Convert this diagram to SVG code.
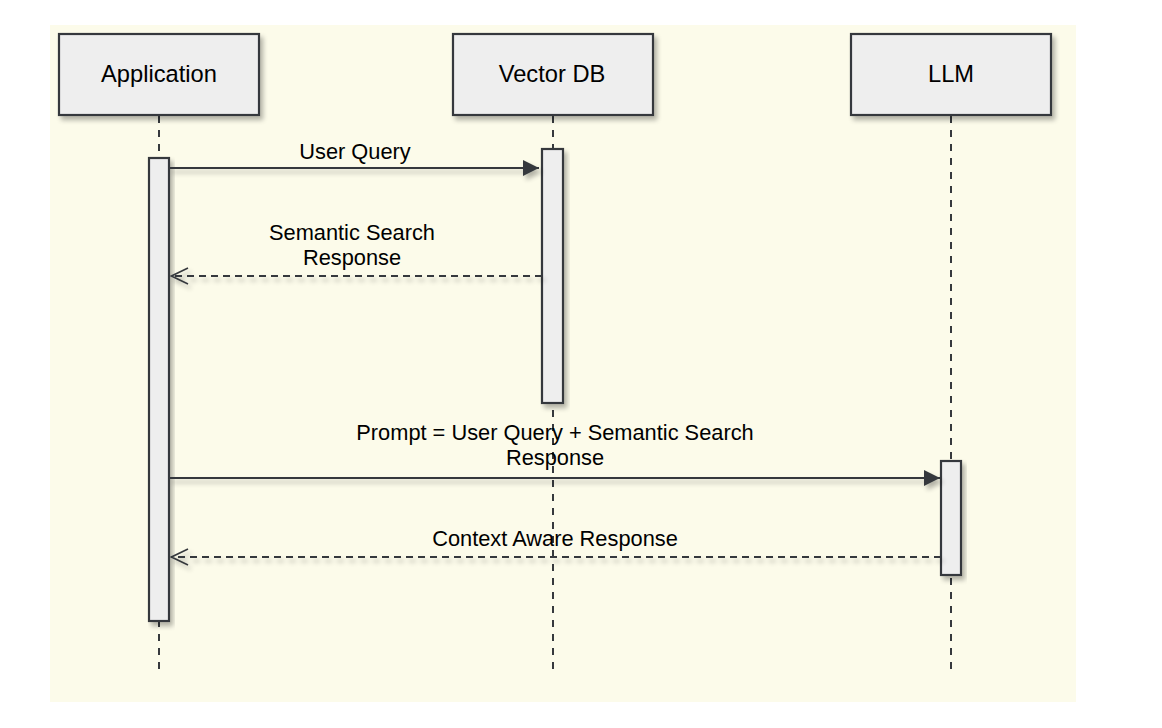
<svg xmlns="http://www.w3.org/2000/svg" width="1162" height="728" viewBox="0 0 1162 728">
<style>
.actor{fill:#eeeeee;stroke:#36393d;stroke-width:2.2}
.act{fill:#eeeeee;stroke:#36393d;stroke-width:2.2}
.life{stroke:#36393d;stroke-width:2;stroke-dasharray:7 7;fill:none}
.msg{stroke:#36393d;stroke-width:2;fill:none}
.ret{stroke:#36393d;stroke-width:2;fill:none;stroke-dasharray:7 5}
.lbl{font-family:"Liberation Sans",Arial,sans-serif;font-size:23.7px;fill:#000;text-anchor:middle}
.mlbl{font-family:"Liberation Sans",Arial,sans-serif;font-size:21.8px;fill:#000;text-anchor:middle}
</style>
<defs>
<filter id="sh" x="-20%" y="-20%" width="150%" height="150%">
<feGaussianBlur in="SourceAlpha" stdDeviation="2.5"/>
<feOffset dx="3" dy="4" result="b"/>
<feComponentTransfer><feFuncA type="linear" slope="0.3"/></feComponentTransfer>
<feMerge><feMergeNode/><feMergeNode in="SourceGraphic"/></feMerge>
</filter>
<marker id="solid" markerWidth="17" markerHeight="16" refX="16" refY="8" orient="auto" markerUnits="userSpaceOnUse">
<path d="M0,0 L16,8 L0,16 Z" fill="#36393d"/>
</marker>
<marker id="open" markerWidth="19" markerHeight="19" refX="18" refY="9.5" orient="auto" markerUnits="userSpaceOnUse">
<path d="M1,1.5 L17.5,9.5 L1,17.5" fill="none" stroke="#36393d" stroke-width="1.6"/>
</marker>
</defs>
<rect x="50" y="25" width="1026" height="677" fill="#fcfbea"/>

<g id="lifelines">
<line class="life" x1="159" y1="116" x2="159" y2="673"/>
<line class="life" x1="553" y1="116" x2="553" y2="673"/>
<line class="life" x1="951" y1="116" x2="951" y2="673"/>
</g>

<g id="application">
<rect class="actor" x="59" y="34" width="200" height="81" filter="url(#sh)"/>
<text class="lbl" x="159" y="82">Application</text>
<rect class="act" x="149" y="158" width="20" height="463" filter="url(#sh)"/>
</g>
<g id="vectordb">
<rect class="actor" x="453" y="34" width="200" height="81" filter="url(#sh)"/>
<text class="lbl" x="552" y="82">Vector DB</text>
<rect class="act" x="542" y="149" width="21" height="254" filter="url(#sh)"/>
</g>
<g id="llm">
<rect class="actor" x="851" y="34" width="200" height="81" filter="url(#sh)"/>
<text class="lbl" x="951" y="82">LLM</text>
<rect class="act" x="941" y="461" width="20" height="114" filter="url(#sh)"/>
</g>

<g id="connectors">
<g filter="url(#sh)">
<line class="msg" x1="169" y1="168" x2="539" y2="168" marker-end="url(#solid)"/>
<line class="ret" x1="542" y1="276" x2="171" y2="276" marker-end="url(#open)"/>
<line class="msg" x1="169" y1="478" x2="940" y2="478" marker-end="url(#solid)"/>
<line class="ret" x1="941" y1="557" x2="171" y2="557" marker-end="url(#open)"/>
</g>
<text class="mlbl" x="355" y="159">User Query</text>
<text class="mlbl" x="352" y="240">Semantic Search</text>
<text class="mlbl" x="352" y="265">Response</text>
<text class="mlbl" x="555" y="440">Prompt = User Query + Semantic Search</text>
<text class="mlbl" x="555" y="465">Response</text>
<text class="mlbl" x="555" y="546">Context Aware Response</text>
</g>
</svg>
